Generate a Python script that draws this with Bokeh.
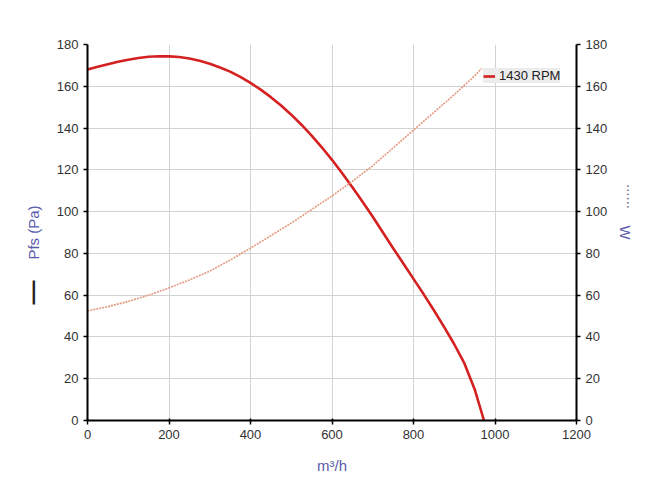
from bokeh.plotting import figure
from bokeh.models import (Range1d, LinearAxis, FixedTicker, Legend, LegendItem)
from bokeh.embed import file_html
from bokeh.resources import INLINE

# ---- data ----
flow_p = [0, 25, 50, 75, 100, 125, 150, 175, 200, 225, 250, 275, 300, 325, 350, 375, 400, 425, 450, 475,
          500, 525, 550, 575, 600, 625, 650, 675, 700, 725, 750, 775, 800, 825, 850, 875, 900, 925, 950, 973]
pressure = [168, 169.3, 170.5, 171.7, 172.7, 173.5, 174.1, 174.4, 174.3, 174, 173.3, 172.2, 170.8, 169, 167, 164.5,
            161.6, 158.4, 154.8, 150.8, 146.4, 141.6, 136.4, 130.8, 124.8, 118.4, 111.7, 104.7, 97.5, 90, 82.5,
            75.2, 67.8, 60.4, 52.8, 44.8, 36.5, 27.3, 15, 0]
flow_w = [0, 50, 100, 150, 200, 250, 300, 350, 400, 450, 500, 550, 600, 650, 700, 750, 800, 850, 900, 950, 967]
power = [52.5, 54.5, 57, 60, 63.5, 67.3, 71.5, 76.8, 82.5, 88.5, 94.5, 101, 107.5, 114.5, 122, 130.5, 139,
         147.5, 156, 165, 168.5]
x_ticks = [0, 200, 400, 600, 800, 1000, 1200]
y_ticks = [0, 20, 40, 60, 80, 100, 120, 140, 160, 180]
series_label = "1430 RPM"
x_label = "m³/h"
left_label = "Pfs (Pa)"
right_label = "W"

FONT = "Liberation Sans"
BLUE = "#5b5bab"
EM = "\u2003"
THIN = "\u2009"

p = figure(width=643, height=496, output_backend="svg", toolbar_location=None,
           x_range=Range1d(0, 1200), y_range=Range1d(0, 180),
           min_border_left=87, min_border_right=66, min_border_top=44, min_border_bottom=76)
p.outline_line_color = None
p.background_fill_color = "white"
p.border_fill_color = "white"

p.xgrid.ticker = FixedTicker(ticks=x_ticks)
p.ygrid.ticker = FixedTicker(ticks=y_ticks)
for g in (p.xgrid[0], p.ygrid[0]):
    g.grid_line_color = "#d2d2d2"
    g.grid_line_width = 1

def style_axis(ax):
    ax.axis_line_color = "black"
    ax.axis_line_width = 2
    ax.major_tick_line_color = "black"
    ax.major_tick_line_width = 1.5
    ax.major_tick_out = 4
    ax.major_tick_in = 0
    ax.minor_tick_line_color = None
    ax.major_label_text_font = FONT
    ax.major_label_text_font_size = "13px"
    ax.major_label_text_color = "#333333"
    ax.major_label_standoff = 5

xa = p.xaxis[0]
xa.ticker = FixedTicker(ticks=x_ticks)
style_axis(xa)
xa.major_tick_in = 2
xa.axis_label = x_label
xa.axis_label_text_font = FONT
xa.axis_label_text_font_style = "normal"
xa.axis_label_text_font_size = "15px"
xa.axis_label_text_color = BLUE
xa.axis_label_standoff = 15

ya = p.yaxis[0]
ya.ticker = FixedTicker(ticks=y_ticks)
style_axis(ya)

ra = LinearAxis(ticker=FixedTicker(ticks=y_ticks))
style_axis(ra)
p.add_layout(ra, "right")

# label-only axes (side titles and their line markers)
def label_axis(side, text, size, color, standoff, style="normal"):
    ax = LinearAxis(ticker=FixedTicker(ticks=[]))
    ax.axis_line_color = None
    ax.major_tick_line_color = None
    ax.minor_tick_line_color = None
    ax.major_tick_out = 0
    ax.major_tick_in = 0
    ax.major_label_standoff = 0
    ax.major_label_text_font_size = "0px"
    ax.axis_label = text
    ax.axis_label_text_font = FONT
    ax.axis_label_text_font_size = size
    ax.axis_label_text_font_style = style
    ax.axis_label_text_color = color
    ax.axis_label_standoff = standoff
    p.add_layout(ax, side)
    return ax

label_axis("left", left_label, "15px", BLUE, 12)
label_axis("left", "—" + EM * 5, "24px", "#222222", -23, "bold")
label_axis("right", right_label, "15px", BLUE, 6)
label_axis("right", "......" + EM * 4 + THIN * 4, "15px", "#666688", -13)

pr = p.line(flow_p, pressure, line_color="#d42020", line_width=2.6)
p.line(flow_w, power, line_color="#e39a80", line_width=1.6, line_dash="2 1")

leg = Legend(items=[LegendItem(label=series_label, renderers=[pr])],
             location=(396, 337))
leg.background_fill_color = "#ececec"
leg.background_fill_alpha = 1
leg.border_line_color = None
leg.label_text_font = FONT
leg.label_text_font_size = "13px"
leg.label_text_color = "#222222"
leg.label_height = 14
leg.glyph_width = 12
leg.glyph_height = 14
leg.padding = 4
leg.margin = 0
leg.spacing = 0
leg.label_standoff = 4
p.add_layout(leg, "center")

open("out.html", "w").write(file_html(p, INLINE))
